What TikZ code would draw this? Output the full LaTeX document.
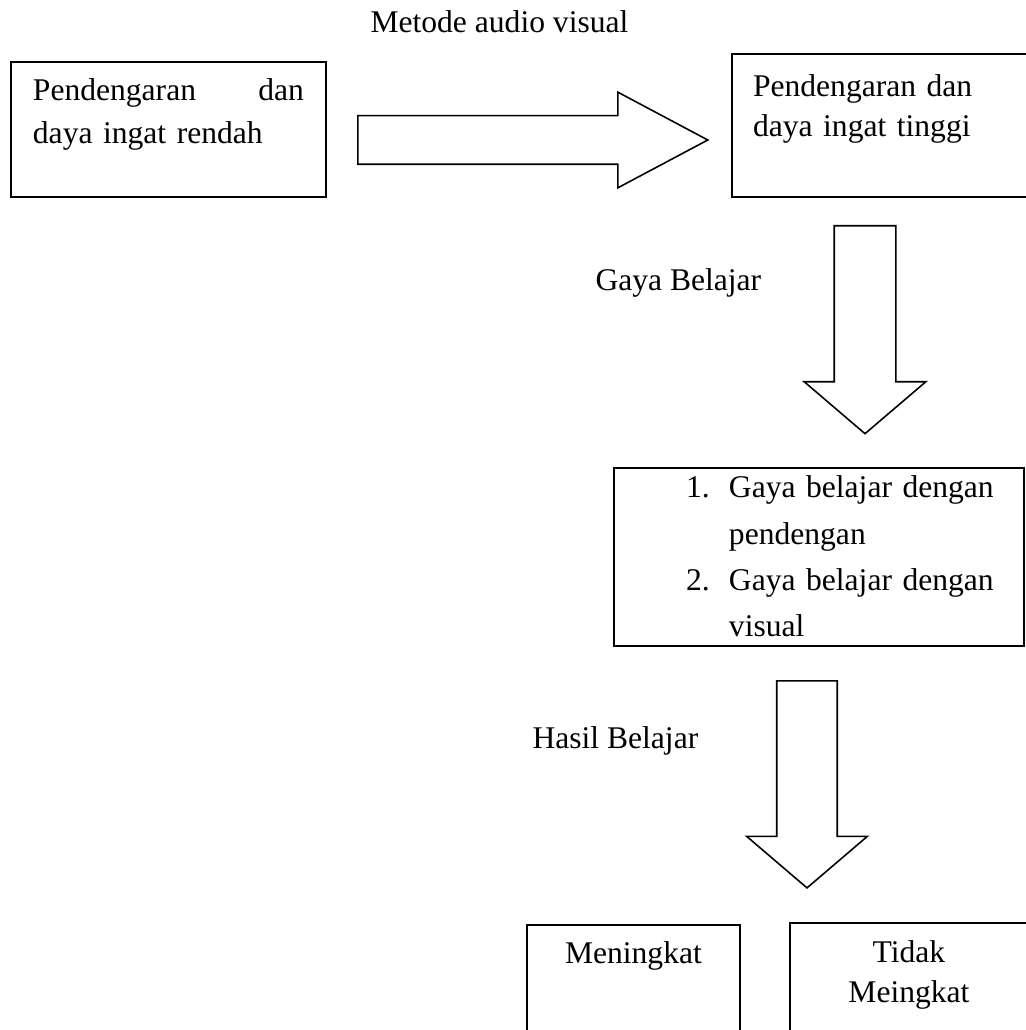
\documentclass[tikz,border=0pt]{standalone}
\usepackage{fontspec}
\setmainfont{Liberation Serif}
\usetikzlibrary{shapes.arrows}

\begin{document}
\begin{tikzpicture}[
    x=0.38pt, y=-0.38pt,
    squarednode/.style={rectangle, draw, line width=0.75pt, inner ysep=0pt, anchor=north west},
    labelnode/.style={inner sep=0pt, anchor=base west, font=\fontsize{12pt}{14pt}\selectfont},
    arrownode/.style={single arrow, draw, line width=0.6pt, inner xsep=0pt, minimum width=0pt, anchor=tail},
  ]
  \useasboundingbox (0,0) rectangle (1025,1030);

  % Nodes
  \node[labelnode] (method) at (370,33) {Metode audio visual};

  \node[squarednode, font=\fontsize{12pt}{16.3pt}\selectfont, minimum width=119.7pt, text width=103pt, inner xsep=8.35pt,
        text height=14.8pt, text depth=36.5pt, align=left] (low) at (10,61)
        {Pendengaran \hfill dan\\daya ingat rendah};
  \node[squarednode, font=\fontsize{12pt}{15.2pt}\selectfont, minimum width=119.3pt, text width=103.3pt, inner xsep=8pt,
        text height=16pt, text depth=38.3pt, align=left] (high) at (731,53)
        {Pendengaran dan\\daya ingat tinggi};

  \node[labelnode] (style_label) at (595,291) {Gaya Belajar};

  \node[squarednode, font=\fontsize{12pt}{17.5pt}\selectfont, minimum width=155.8pt, text width=136.8pt, inner xsep=9.5pt,
        text height=11.4pt, text depth=56.2pt, align=left] (styles) at (613,467)
        {\hspace*{17.9pt}\makebox[16.3pt][l]{1.}\makebox[102.6pt][s]{Gaya belajar dengan}\\
         \hspace*{34.2pt}pendengan\\
         \hspace*{17.9pt}\makebox[16.3pt][l]{2.}\makebox[102.6pt][s]{Gaya belajar dengan}\\
         \hspace*{34.2pt}visual};

  \node[labelnode] (result_label) at (532,748) {Hasil Belajar};

  \node[squarednode, font=\fontsize{12pt}{15.2pt}\selectfont, minimum width=80.9pt, text width=80.9pt, inner xsep=0pt,
        text height=14.8pt, text depth=42pt, align=center] (up) at (526,924) {Meningkat};
  \node[squarednode, font=\fontsize{12pt}{15.2pt}\selectfont, minimum width=97.3pt, text width=97.3pt, inner xsep=0pt,
        text height=15.2pt, text depth=42pt, align=left] (not_up) at (789,922)
        {\makebox[90.4pt]{Tidak}\\\makebox[90.4pt]{Meingkat}};

  % Arrows
  \node[arrownode, minimum height=133pt, inner ysep=8.93pt,
        single arrow head extend=8.93pt, single arrow tip angle=56] (arrow_method) at (357,140) {};
  \node[arrownode, rotate=-90, minimum height=79pt, inner ysep=11.4pt,
        single arrow head extend=11.4pt, single arrow tip angle=99] (arrow_style) at (865,225) {};
  \node[arrownode, rotate=-90, minimum height=78.7pt, inner ysep=11.2pt,
        single arrow head extend=11.4pt, single arrow tip angle=99] (arrow_result) at (807,680) {};
\end{tikzpicture}
\end{document}
